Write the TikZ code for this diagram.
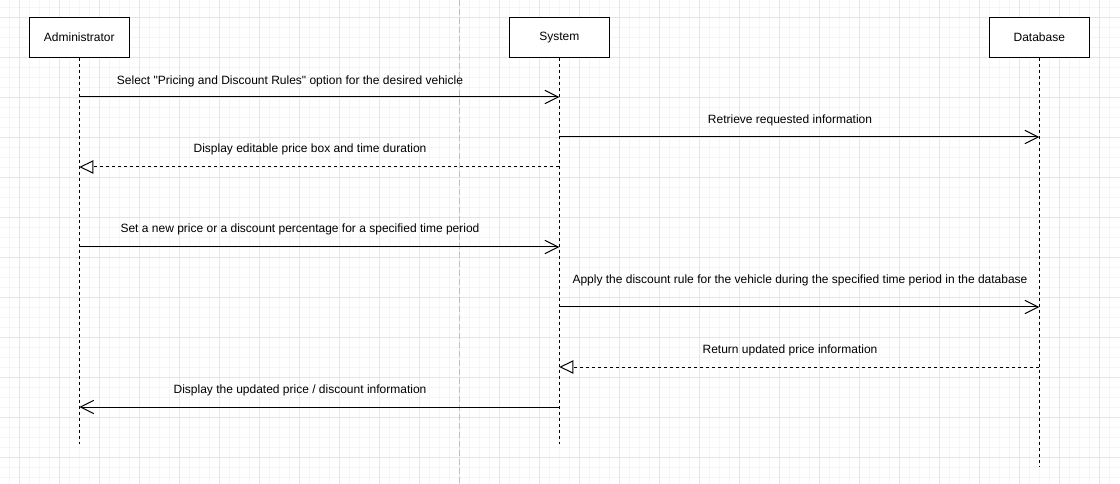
\documentclass[tikz,border=0pt]{standalone}
\usepackage{fontspec}
\setmainfont{Liberation Sans}
\usetikzlibrary{arrows.meta}
\definecolor{gridmajor}{HTML}{E6E6E6}
\definecolor{gridminor}{HTML}{F5F5F5}
\definecolor{pagebreak}{HTML}{C0C0C0}
\tikzset{
  actor/.style={draw=black, line width=0.75pt, fill=white, minimum width=75pt, minimum height=30pt, inner sep=0pt, font=\fontsize{9}{11}\selectfont},
  lifeline/.style={line width=0.75pt, dash pattern=on 2.25pt off 2.25pt},
  call/.style={line width=0.75pt, -{Straight Barb[length=10pt, width=10pt, line width=0.75pt]}},
  reply/.style={line width=0.75pt, dash pattern=on 2.25pt off 2.25pt, -{Triangle[open, length=10.5pt, width=10pt, line width=0.75pt, fill=white]}},
  msglabel/.style={font=\fontsize{9}{11}\selectfont, inner sep=0pt}
}
\begin{document}
\begin{tikzpicture}[x=0.75pt, y=-0.75pt]
  \useasboundingbox (0,0) rectangle (1120,484);
  \fill[white] (0,0) rectangle (1120,484);
  % background grid
  \foreach \gx in {9.3,19.3,...,1119} \draw[gridminor, line width=0.75pt] (\gx,0) -- (\gx,484);
  \foreach \gy in {7.3,17.3,...,483} \draw[gridminor, line width=0.75pt] (0,\gy) -- (1120,\gy);
  \foreach \gx in {19.3,59.3,...,1119} \draw[gridmajor, line width=0.75pt] (\gx,0) -- (\gx,484);
  \foreach \gy in {17.3,57.3,...,483} \draw[gridmajor, line width=0.75pt] (0,\gy) -- (1120,\gy);
  % page break
  \draw[pagebreak, line width=0.75pt, dash pattern=on 4.5pt off 2.25pt] (459.3,0) -- (459.3,484);

  % participants
  \node[actor] (admin) at (79.3,37.3) {Administrator};
  \node[actor] (sys)   at (559.3,37.3) {System};
  \node[actor] (db)    at (1039.3,37.3) {Database};

  % lifelines
  \coordinate (adminEnd) at (79.3,444);
  \coordinate (sysEnd)   at (559.3,444);
  \coordinate (dbEnd)    at (1039.3,467);
  \draw[lifeline] (admin.south) -- (adminEnd);
  \draw[lifeline] (sys.south) -- (sysEnd);
  \draw[lifeline] (db.south) -- (dbEnd);

  % messages
  \draw[call]  (admin |- 0,97)  -- (sys |- 0,97);
  \node[msglabel] (m1) at (290,81) {Select \textquotedbl Pricing and Discount Rules\textquotedbl{} option for the desired vehicle};

  \draw[call]  (sys |- 0,137)   -- (db |- 0,137);
  \node[msglabel] (m2) at (790,120) {Retrieve requested information};

  \draw[reply] (sys |- 0,167)   -- (admin |- 0,167);
  \node[msglabel] (m3) at (310,149) {Display editable price box and time duration};

  \draw[call]  (admin |- 0,247) -- (sys |- 0,247);
  \node[msglabel] (m4) at (300,229) {Set a new price or a discount percentage for a specified time period};

  \draw[call]  (sys |- 0,307)   -- (db |- 0,307);
  \node[msglabel] (m5) at (800,280) {Apply the discount rule for the vehicle during the specified time period in the database};

  \draw[reply] (db |- 0,367)    -- (sys |- 0,367);
  \node[msglabel] (m6) at (790,350) {Return updated price information};

  \draw[call]  (sys |- 0,407)   -- (admin |- 0,407);
  \node[msglabel] (m7) at (300,390) {Display the updated price / discount information};
\end{tikzpicture}
\end{document}
